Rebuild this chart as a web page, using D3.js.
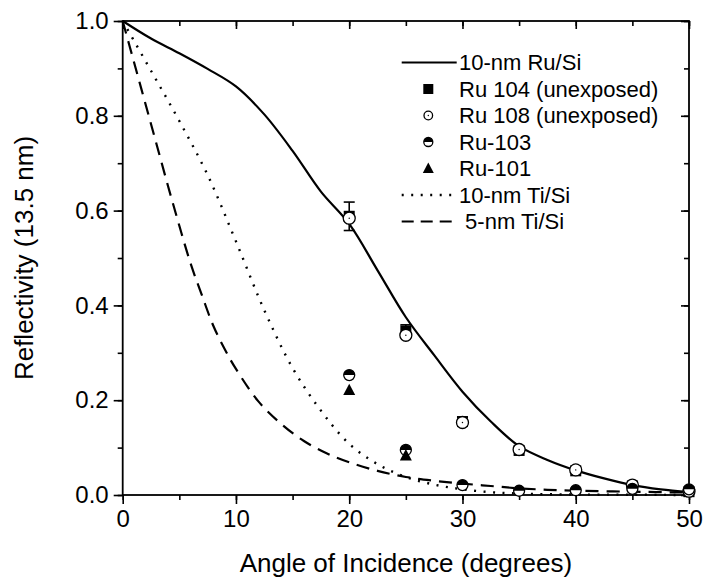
<!DOCTYPE html>
<html>
<head>
<meta charset="utf-8">
<script src="https://cdn.jsdelivr.net/npm/d3@7"></script>
<style>
body { margin: 0; background: #fff; }
svg text { font-family: "Liberation Sans", Arial, sans-serif; fill: #000; }
</style>
</head>
<body>
<div id="chart"></div>
<script>
// calculated curves
var ruSiAngle = [0, 2.5, 5, 7.5, 10, 12.5, 15, 17.5, 20, 22.5, 25, 27.5, 30, 32.5, 35, 37.5, 40, 42.5, 45, 47.5, 50];
var ruSiRefl = [1.0, 0.963, 0.932, 0.899, 0.862, 0.803, 0.726, 0.640, 0.572, 0.474, 0.375, 0.295, 0.218, 0.155, 0.103, 0.074, 0.052, 0.035, 0.021, 0.012, 0.006];

var ti10Angle = [0, 2.5, 5, 7.5, 10, 12.5, 15, 17.5, 20, 22.5, 25, 27.5, 30, 32.5, 35, 40, 45, 50];
var ti10Refl = [1.0, 0.895, 0.789, 0.675, 0.535, 0.39, 0.268, 0.178, 0.108, 0.065, 0.038, 0.022, 0.012, 0.006, 0.003, 0.001, 0.0005, 0];

var ti5Angle = [0, 1, 2, 3, 4, 5, 6, 7, 8, 9, 10, 12, 14, 16, 18, 20, 22.5, 25, 27.5, 30, 32.5, 35, 37.5, 40, 45, 50];
var ti5Refl = [1.0, 0.913, 0.826, 0.739, 0.652, 0.568, 0.488, 0.421, 0.357, 0.308, 0.266, 0.197, 0.150, 0.114, 0.088, 0.069, 0.051, 0.038, 0.030, 0.024, 0.019, 0.014, 0.011, 0.009, 0.007, 0.005];

// measurements
var measAngle = [20, 25, 30, 35, 40, 45, 50];
var ru104 = [0.588, 0.346, 0.155, 0.094, 0.051, 0.019, 0.007];
var ru104Err = [0.03, 0.013, 0, 0, 0, 0, 0];
var ru108 = [0.584, 0.337, 0.153, 0.096, 0.053, 0.021, 0.008];
var ru103 = [0.253, 0.095, 0.021, 0.009, 0.010, 0.013, 0.012];
var ru101Angle = [20, 25];
var ru101 = [0.221, 0.083];

var xTicks = [0, 10, 20, 30, 40, 50];
var yTicks = [0, 0.2, 0.4, 0.6, 0.8, 1.0];

var legendNames = ['10-nm Ru/Si', 'Ru 104 (unexposed)', 'Ru 108 (unexposed)', 'Ru-103', 'Ru-101', '10-nm Ti/Si', ' 5-nm Ti/Si'];

var width = 706, height = 580;
var pLeft = 122.7, pRight = 689, pTop = 21, pBottom = 495;

var svg = d3.select('#chart').append('svg')
    .attr('width', width)
    .attr('height', height)

var x = d3.scaleLinear().domain([0, 50]).range([pLeft, pRight])
var y = d3.scaleLinear().domain([0, 1]).range([pBottom, pTop])

// axes: bottom/left ticks outward, top/right inward
function axisStyle(g) {
    g.select('.domain').remove()
    g.selectAll('line').attr('stroke', '#000').attr('stroke-width', 1.6)
}

svg.append('g')
    .attr('transform', 'translate(0,' + pBottom + ')')
    .call(d3.axisBottom(x).tickValues(d3.range(0, 51, 5)).tickSize(5).tickFormat(''))
    .call(axisStyle)
svg.append('g')
    .attr('transform', 'translate(0,' + pBottom + ')')
    .call(d3.axisBottom(x).tickValues(xTicks).tickSize(9).tickPadding(6).tickFormat(d3.format('d')))
    .call(axisStyle)
    .selectAll('text').style('font-size', '24px')

svg.append('g')
    .attr('transform', 'translate(' + pLeft + ',0)')
    .call(d3.axisLeft(y).tickValues(d3.range(0, 1.01, 0.1)).tickSize(5).tickFormat(''))
    .call(axisStyle)
svg.append('g')
    .attr('transform', 'translate(' + pLeft + ',0)')
    .call(d3.axisLeft(y).tickValues(yTicks).tickSize(9).tickPadding(5).tickFormat(d3.format('.1f')))
    .call(axisStyle)
    .selectAll('text').style('font-size', '24px')

svg.append('g')
    .attr('transform', 'translate(0,' + pTop + ')')
    .call(d3.axisTop(x).tickValues(d3.range(0, 51, 5)).tickSize(-5).tickFormat(''))
    .call(axisStyle)
svg.append('g')
    .attr('transform', 'translate(0,' + pTop + ')')
    .call(d3.axisTop(x).tickValues(xTicks).tickSize(-8).tickFormat(''))
    .call(axisStyle)
svg.append('g')
    .attr('transform', 'translate(' + pRight + ',0)')
    .call(d3.axisRight(y).tickValues(d3.range(0, 1.01, 0.1)).tickSize(-5).tickFormat(''))
    .call(axisStyle)
svg.append('g')
    .attr('transform', 'translate(' + pRight + ',0)')
    .call(d3.axisRight(y).tickValues(yTicks).tickSize(-8).tickFormat(''))
    .call(axisStyle)

// frame
svg.append('rect')
    .attr('x', pLeft).attr('y', pTop)
    .attr('width', pRight - pLeft).attr('height', pBottom - pTop)
    .attr('fill', 'none').attr('stroke', '#000').attr('stroke-width', 1.8)

svg.append('text')
    .attr('x', (pLeft + pRight) / 2).attr('y', 572)
    .attr('text-anchor', 'middle')
    .style('font-size', '26px')
    .text('Angle of Incidence (degrees)')

svg.append('text')
    .attr('transform', 'translate(33,' + (pTop + pBottom) / 2 + ') rotate(-90)')
    .attr('text-anchor', 'middle')
    .style('font-size', '26px')
    .text('Reflectivity (13.5 nm)')

// curves
var line = d3.line()
    .x(d => x(d[0]))
    .y(d => y(d[1]))
    .curve(d3.curveCatmullRom.alpha(0.5))

var curves = [
    { a: ruSiAngle, r: ruSiRefl, dash: null },
    { a: ti10Angle, r: ti10Refl, dash: '2,7.5' },
    { a: ti5Angle, r: ti5Refl, dash: '13,8' }
]
curves.forEach(function(c) {
    svg.append('path')
        .datum(c.a.map((v, i) => [v, c.r[i]]))
        .attr('d', line)
        .attr('fill', 'none')
        .attr('stroke', '#000')
        .attr('stroke-width', c.dash == '2,7.5' ? 2.4 : 2.2)
        .attr('stroke-dasharray', c.dash)
})

// marker shapes
function square(g, s) {
    g.append('rect').attr('x', -s / 2).attr('y', -s / 2).attr('width', s).attr('height', s).attr('fill', '#000')
}
function openCircle(g, r) {
    g.append('circle').attr('r', r).attr('fill', '#fff').attr('stroke', '#000').attr('stroke-width', 1.3)
    g.append('circle').attr('r', 0.7).attr('fill', '#000')
}
function halfCircle(g, r) {
    g.append('circle').attr('r', r).attr('fill', '#fff').attr('stroke', '#000').attr('stroke-width', 1.3)
    g.append('path').attr('d', 'M' + (-r) + ',0A' + r + ',' + r + ' 0 0 1 ' + r + ',0Z').attr('fill', '#000')
}
function triangle(g, s) {
    g.append('path').attr('d', 'M0,' + (-s * 0.55) + 'L' + (s / 2) + ',' + (s * 0.4) + 'L' + (-s / 2) + ',' + (s * 0.4) + 'Z').attr('fill', '#000')
}

// error bars on Ru 104
measAngle.forEach(function(a, i) {
    var e = ru104Err[i]
    if (!e) return
    var cx = x(a)
    var g = svg.append('g').attr('stroke', '#000').attr('stroke-width', 1.6)
    g.append('line').attr('x1', cx).attr('x2', cx).attr('y1', y(ru104[i] - e)).attr('y2', y(ru104[i] + e))
    g.append('line').attr('x1', cx - 5.5).attr('x2', cx + 5.5).attr('y1', y(ru104[i] - e)).attr('y2', y(ru104[i] - e))
    g.append('line').attr('x1', cx - 5.5).attr('x2', cx + 5.5).attr('y1', y(ru104[i] + e)).attr('y2', y(ru104[i] + e))
})

measAngle.forEach(function(a, i) {
    square(svg.append('g').attr('transform', 'translate(' + x(a) + ',' + y(ru104[i]) + ')'), 11)
})
measAngle.forEach(function(a, i) {
    openCircle(svg.append('g').attr('transform', 'translate(' + x(a) + ',' + y(ru108[i]) + ')'), 6)
})
measAngle.forEach(function(a, i) {
    halfCircle(svg.append('g').attr('transform', 'translate(' + x(a) + ',' + y(ru103[i]) + ')'), 5.5)
})
ru101Angle.forEach(function(a, i) {
    triangle(svg.append('g').attr('transform', 'translate(' + x(a) + ',' + y(ru101[i]) + ')'), 12)
})

// legend
var lgX = 401.7, lgW = 55, lgText = 459, lgTop = 62.5, lgStep = 26.5
legendNames.forEach(function(name, i) {
    var ly = lgTop + i * lgStep
    var g = svg.append('g')
    if (i == 0 || i == 5 || i == 6) {
        g.append('line')
            .attr('x1', lgX).attr('x2', lgX + (i == 6 ? 50 : lgW))
            .attr('y1', ly).attr('y2', ly)
            .attr('stroke', '#000')
            .attr('stroke-width', i == 5 ? 2.4 : 2.2)
            .attr('stroke-dasharray', i == 5 ? '2,7.5' : (i == 6 ? '12,7' : null))
    } else {
        var m = g.append('g').attr('transform', 'translate(' + (lgX + 26.6) + ',' + ly + ')')
        if (i == 1) square(m, 10)
        if (i == 2) openCircle(m, 4.3)
        if (i == 3) halfCircle(m, 4.5)
        if (i == 4) triangle(m, 11)
    }
    g.append('text')
        .attr('x', lgText).attr('y', ly + 7.5)
        .attr('xml:space', 'preserve')
        .style('white-space', 'pre')
        .style('font-size', '22px')
        .text(name)
})
</script>
</body>
</html>
